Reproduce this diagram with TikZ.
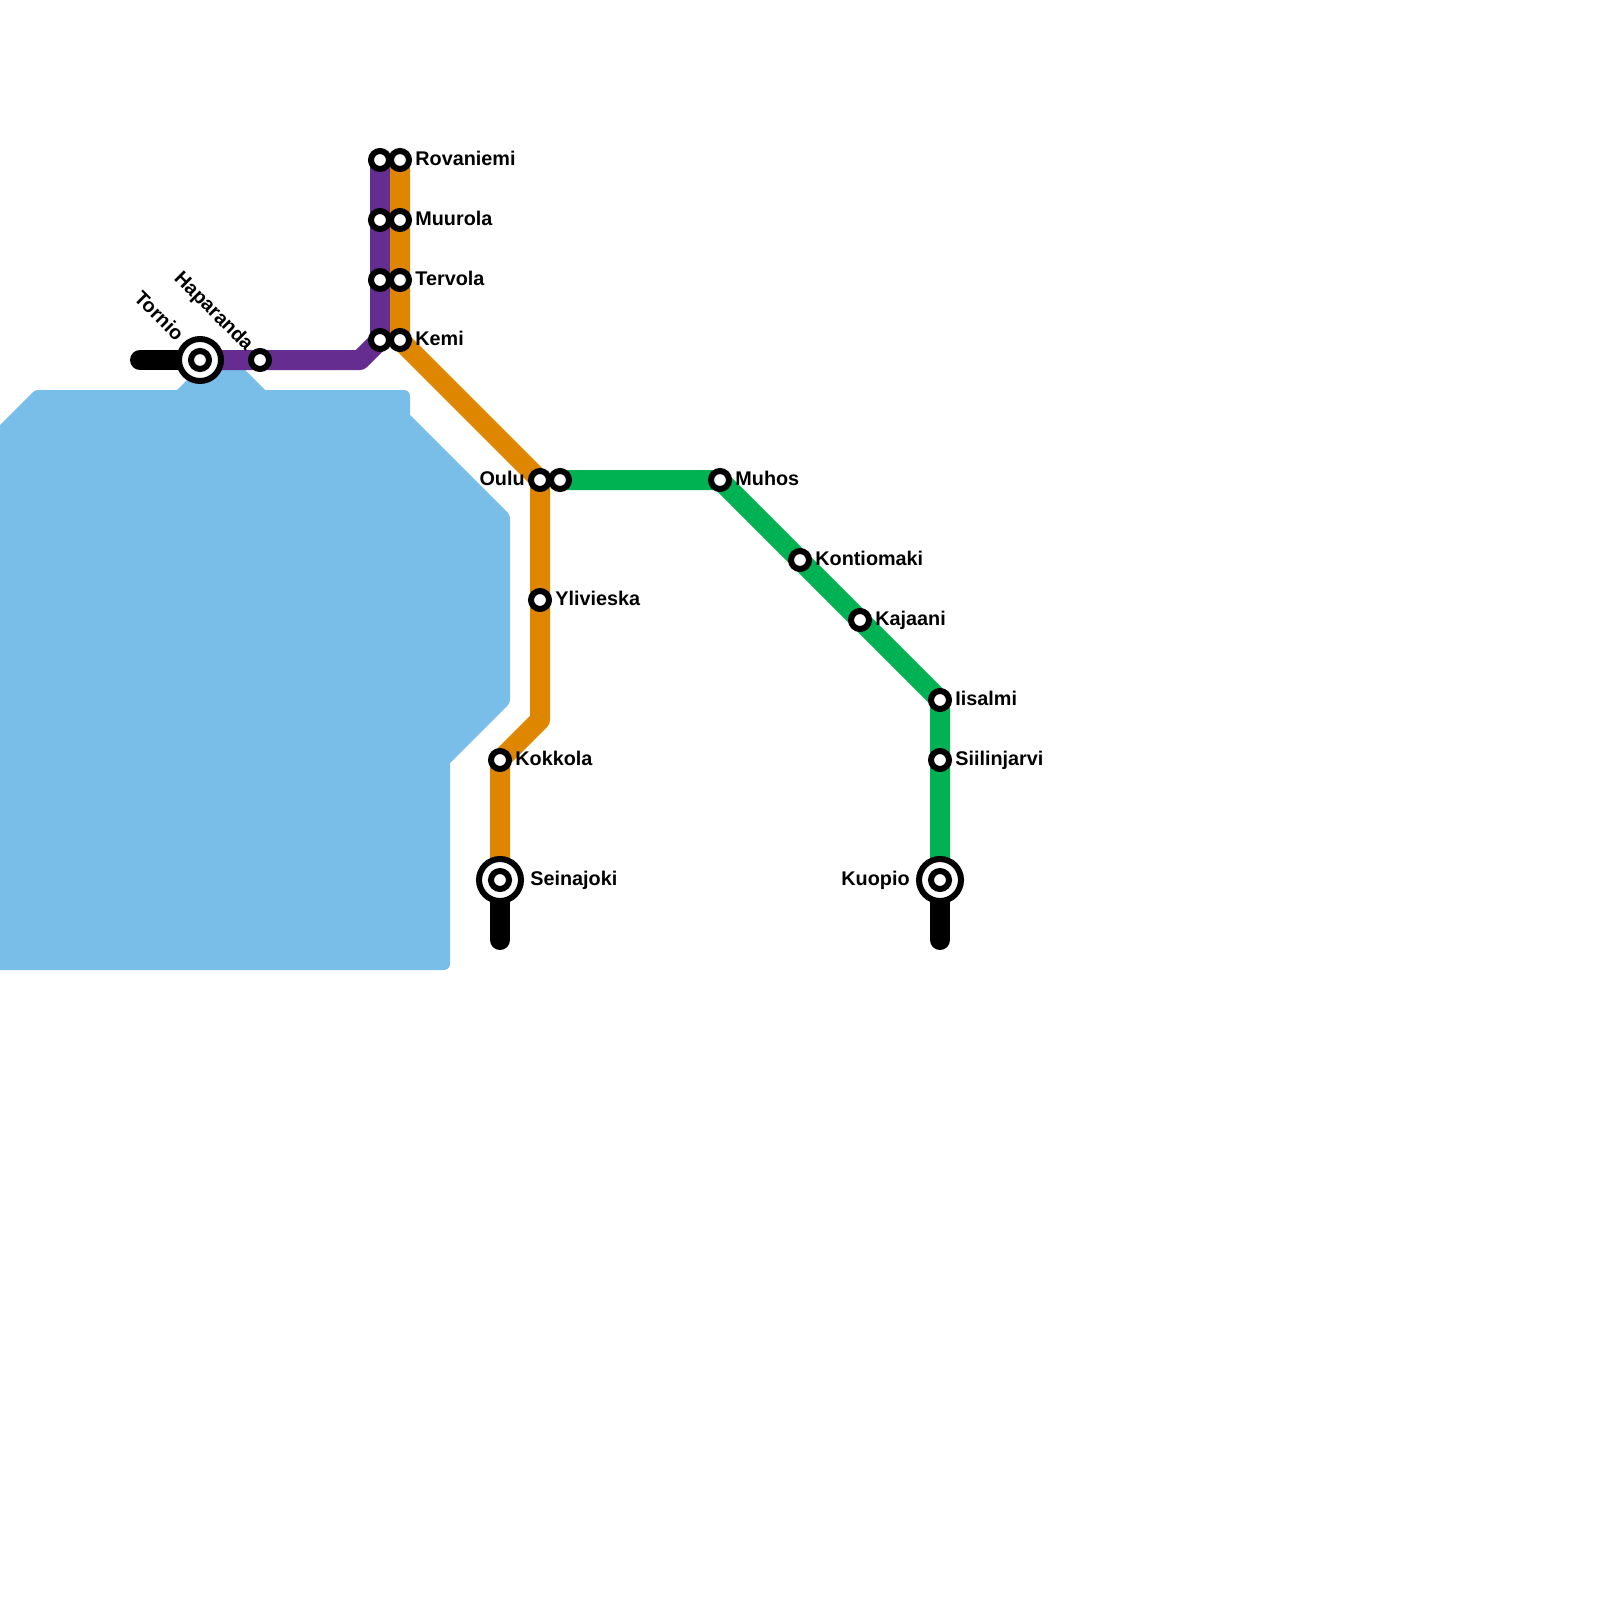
\documentclass[tikz,border=0pt]{standalone}
\usepackage{fontspec}
\setmainfont{Liberation Sans}
\usetikzlibrary{backgrounds}
\definecolor{water}{HTML}{79BDE9}
\definecolor{linepurple}{HTML}{662D91}
\definecolor{lineorange}{HTML}{DF8600}
\definecolor{linegreen}{HTML}{00B251}
\tikzset{
  x=0.5pt,y=-0.5pt,
  stationdot/.style={circle,draw=black,fill=white,line width=3pt,minimum size=9pt,inner sep=0pt},
  stationbig/.style={circle,draw=black,fill=white,line width=3pt,minimum size=21pt,inner sep=0pt},
  metro/.style={line width=10pt,line join=round},
  terminus/.style={line width=10pt,line cap=round,draw=black},
  lbl/.style={font=\fontsize{9.9}{12}\bfseries\selectfont,text=black,inner sep=0pt},
  lblright/.style={lbl,anchor=base west},
  lblleft/.style={lbl,anchor=base east},
  lbldiag/.style={lbl,anchor=base east,rotate=-45},
}
\begin{document}
\begin{tikzpicture}
\useasboundingbox (0,0) rectangle (1600,1600);
% stations
\node[stationbig] (tornio) at (200,360) {};
\node[stationdot] (tornioin) at (200,360) {};
\node[stationdot] (haparanda) at (260,360) {};
\node[stationdot] (rovP) at (380,160) {};
\node[stationdot] (muuP) at (380,220) {};
\node[stationdot] (terP) at (380,280) {};
\node[stationdot] (kemP) at (380,340) {};
\node[stationdot] (rovO) at (400,160) {};
\node[stationdot] (muuO) at (400,220) {};
\node[stationdot] (terO) at (400,280) {};
\node[stationdot] (kemO) at (400,340) {};
\node[stationdot] (ouluO) at (540,480) {};
\node[stationdot] (ouluG) at (560,480) {};
\node[stationdot] (ylivieska) at (540,600) {};
\node[stationdot] (kokkola) at (500,760) {};
\node[stationbig] (seinajoki) at (500,880) {};
\node[stationdot] (seinajokiin) at (500,880) {};
\node[stationdot] (muhos) at (720,480) {};
\node[stationdot] (kontiomaki) at (800,560) {};
\node[stationdot] (kajaani) at (860,620) {};
\node[stationdot] (iisalmi) at (940,700) {};
\node[stationdot] (siilinjarvi) at (940,760) {};
\node[stationbig] (kuopio) at (940,880) {};
\node[stationdot] (kuopioin) at (940,880) {};
% free ends and bends
\coordinate (tornioend) at (140,360);
\coordinate (seinend) at (500,940);
\coordinate (kuopioend) at (940,940);
\coordinate (purplebend) at (360,360);
\coordinate (orangebend) at (540,720);
% labels
\node[lblright] (lrov) at (415,165) {Rovaniemi};
\node[lblright] (lmuu) at (415,225) {Muurola};
\node[lblright] (lter) at (415,285) {Tervola};
\node[lblright] (lkem) at (415,345) {Kemi};
\node[lblleft] (loul) at (525,485) {Oulu};
\node[lblright] (lyli) at (555,605) {Ylivieska};
\node[lblright] (lkok) at (515,765) {Kokkola};
\node[lblright] (lsei) at (530,885) {Seinajoki};
\node[lblright] (lmuh) at (735,485) {Muhos};
\node[lblright] (lkon) at (815,565) {Kontiomaki};
\node[lblright] (lkaj) at (875,625) {Kajaani};
\node[lblright] (liis) at (955,705) {Iisalmi};
\node[lblright] (lsii) at (955,765) {Siilinjarvi};
\node[lblleft] (lkuo) at (910,885) {Kuopio};
\node[lbldiag] (ltor) at (176,342) {Tornio};
\node[lbldiag] (lhap) at (246,352) {Haparanda};
\begin{pgfonlayer}{background}
  \fill[water] (-40,465) [rounded corners=1.5pt] -- (35,390) [sharp corners] -- (177,390) -- (197,370) -- (245,370) -- (265,390)
    [rounded corners=3pt] -- (410,390) [sharp corners] -- (410,415) [rounded corners=1.5pt] -- (510,515) -- (510,703) [sharp corners]
    -- (450,763) [rounded corners=3pt] -- (450,970) [sharp corners] -- (-40,970) -- cycle;
  \draw[terminus] (tornio.center) -- (tornioend);
  \draw[terminus] (seinajoki.center) -- (seinend);
  \draw[terminus] (kuopio.center) -- (kuopioend);
  \draw[metro,linepurple] (rovP.center) -- (kemP.center) -- (purplebend) -- (tornio.center);
  \draw[metro,lineorange] (rovO.center) -- (kemO.center) -- (ouluO.center) -- (orangebend) -- (kokkola.center) -- (seinajoki.center);
  \draw[metro,linegreen] (ouluG.center) -- (muhos.center) -- (iisalmi.center) -- (kuopio.center);
\end{pgfonlayer}
\end{tikzpicture}
\end{document}
